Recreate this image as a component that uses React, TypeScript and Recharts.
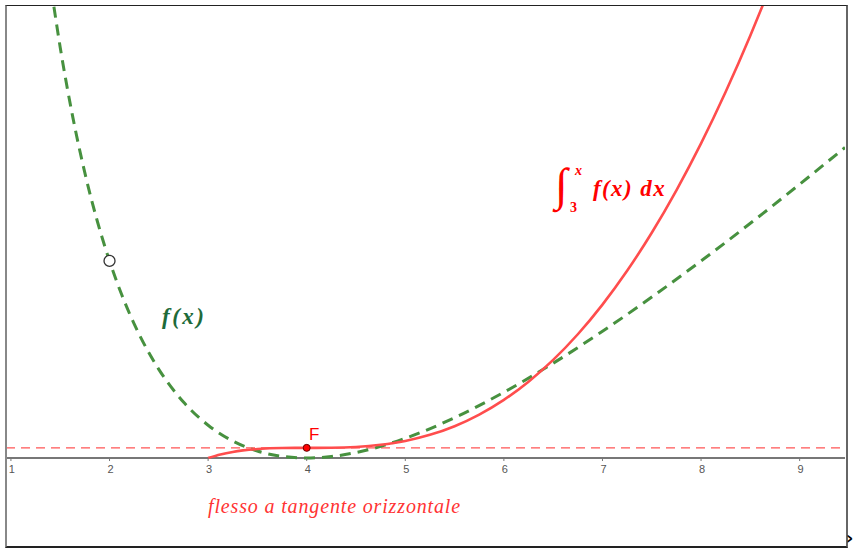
import { LineChart, Line, XAxis, YAxis, ReferenceLine, ReferenceDot } from "recharts";

// f(x): green dashed curve
const fXs = [1.436, 1.5, 1.625, 1.75, 1.875, 2, 2.125, 2.25, 2.375, 2.5, 2.75, 3, 3.25, 3.5, 3.75, 4, 4.25, 4.5, 4.75, 5, 5.5, 6, 6.5, 7, 7.5, 8, 8.5, 9, 9.46];
const fYs = [4.58, 4.167, 3.472, 2.893, 2.408, 2, 1.654, 1.361, 1.112, 0.9, 0.568, 0.333, 0.173, 0.071, 0.017, 0, 0.015, 0.056, 0.118, 0.2, 0.409, 0.667, 0.962, 1.286, 1.633, 2, 2.382, 2.778, 3.151];

// integral from 3 to x of f: red curve
const intXs = [3, 3.125, 3.25, 3.5, 3.75, 4, 4.25, 4.5, 4.75, 5, 5.25, 5.5, 5.75, 6, 6.25, 6.5, 6.75, 7, 7.25, 7.5, 7.75, 8, 8.25, 8.5, 8.625];
const intYs = [0, 0.036, 0.062, 0.091, 0.102, 0.103, 0.104, 0.112, 0.134, 0.173, 0.235, 0.323, 0.441, 0.59, 0.775, 0.996, 1.256, 1.557, 1.9, 2.286, 2.717, 3.193, 3.717, 4.288, 4.592];

const xTicks = [1, 2, 3, 4, 5, 6, 7, 8, 9];
const hole = { x: 2, y: 2 };
const flex = { x: 4, y: 0.103 };

const fData = fXs.map((x, i) => ({ x, y: fYs[i] }));
const intData = intXs.map((x, i) => ({ x, y: intYs[i] }));

const RED = "#ff4d4d";
const GREEN = "#47913f";

function TickMark(props: any) {
  const { cx, cy, label } = props;
  return (
    <g>
      <line x1={cx} y1={cy} x2={cx} y2={cy + 3} stroke="#777" strokeWidth={1} />
      <text x={cx + 1} y={cy + 15} textAnchor="middle" fontSize={11} fill="#555" fontFamily="Liberation Sans, Arial, sans-serif">
        {label}
      </text>
    </g>
  );
}

export default function App() {
  return (
    <div style={{ position: "absolute", left: 0, top: 0, width: 857, height: 551, background: "#fff" }}>
      <LineChart width={857} height={551} data={fData} margin={{ top: 6, right: 12, bottom: 4, left: 6 }}>
        <XAxis type="number" dataKey="x" domain={[0.95, 9.46]} allowDataOverflow hide />
        <YAxis type="number" domain={[-0.903, 4.587]} allowDataOverflow hide />
        <ReferenceLine y={0} stroke="#777" strokeWidth={2} />
        {xTicks.map((t) => (
          <ReferenceDot key={t} x={t} y={0} r={0} shape={(p: any) => <TickMark {...p} label={t} />} />
        ))}
        <ReferenceLine y={flex.y} stroke="#ff5555" strokeWidth={1.4} strokeDasharray="9 6" />
        <Line data={fData} dataKey="y" type="monotone" stroke={GREEN} strokeWidth={3} strokeDasharray="11 7" dot={false} isAnimationActive={false} />
        <Line data={intData} dataKey="y" type="monotone" stroke={RED} strokeWidth={2.6} dot={false} isAnimationActive={false} />
        <ReferenceDot x={hole.x} y={hole.y} r={5.5} fill="#fff" stroke="#333" strokeWidth={1.3} />
        <ReferenceDot x={flex.x} y={flex.y} r={3.5} fill="#f00" stroke="#600" strokeWidth={1} />
      </LineChart>
      {/* frame */}
      <div style={{ position: "absolute", left: 5, top: 5, width: 839, height: 540, borderTop: "1px solid #222", borderLeft: "2px solid #888", borderRight: "2px solid #666", borderBottom: "2px solid #222" }} />
      {/* labels */}
      <div style={{ position: "absolute", left: 309, top: 425, color: "#f00", fontFamily: "Liberation Sans, Arial, sans-serif", fontSize: 17 }}>F</div>
      <div style={{ position: "absolute", left: 162, top: 304, color: "#1e6b3a", fontFamily: "Liberation Serif, serif", fontStyle: "italic", fontWeight: "bold", fontSize: 23, letterSpacing: 2.5 }}>f(x)</div>
      <div style={{ position: "absolute", left: 208, top: 495, color: "#ff3333", fontFamily: "Liberation Serif, serif", fontStyle: "italic", fontSize: 20, letterSpacing: 0.85, whiteSpace: "nowrap" }}>
        flesso a tangente orizzontale
      </div>
      <div style={{ position: "absolute", left: 555, top: 158, color: "#f00", fontFamily: "Liberation Serif, serif", whiteSpace: "nowrap", height: 62 }}>
        <span style={{ position: "absolute", left: 0, top: 0, fontSize: 46, fontStyle: "italic" }}>∫</span>
        <span style={{ position: "absolute", left: 20, top: 5, fontSize: 14, fontStyle: "italic", fontWeight: "bold" }}>x</span>
        <span style={{ position: "absolute", left: 15, top: 42, fontSize: 14, fontWeight: "bold" }}>3</span>
        <span style={{ position: "absolute", left: 38, top: 18, fontSize: 23, fontStyle: "italic", fontWeight: "bold", letterSpacing: 1.4 }}>f(x)&nbsp;dx</span>
      </div>
      <div style={{ position: "absolute", left: 846, top: 527, color: "#000", fontFamily: "DejaVu Sans, sans-serif", fontSize: 18, fontWeight: "bold" }}>›</div>
    </div>
  );
}
